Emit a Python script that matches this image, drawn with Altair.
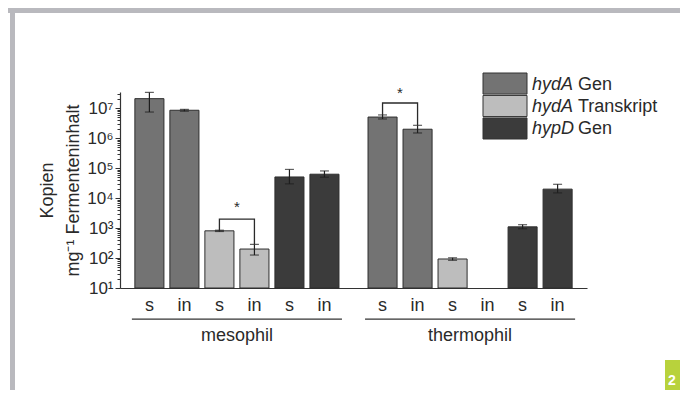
import altair as alt
import pandas as pd

# ---------------- data ----------------
series_names = ["hydA Gen", "hydA Transkript", "hypD Gen"]
series_gene = ["hydA", "hydA", "hypD"]
series_rest = ["Gen", "Transkript", "Gen"]
series_colors = ["#737373", "#bdbdbd", "#3b3b3b"]

groups = ["mesophil", "thermophil"]
conditions = ["s", "in"]

meso_values = [2.1e7, 8.6e6, 810, 200, 5.1e4, 6.3e4]
meso_lo = [7.5e6, 8.0e6, 770, 126, 3.0e4, 5.0e4]
meso_hi = [3.4e7, 9.2e6, 850, 286, 9.1e4, 8.1e4]

thermo_values = [5.1e6, 2.0e6, 93, None, 1100, 2.0e4]
thermo_lo = [4.4e6, 1.5e6, 84, None, 950, 1.5e4]
thermo_hi = [6.0e6, 2.7e6, 102, None, 1300, 2.9e4]

# significance brackets
br_group = ["mesophil"] * 4 + ["thermophil"] * 4
br_slot = [3, 3, 4, 4, 1, 1, 2, 2]
br_y = [850, 2000, 2000, 286, 6.0e6, 1.5e7, 1.5e7, 2.7e6]
br_step = [0, 1, 2, 3, 0, 1, 2, 3]
star_group = ["mesophil", "thermophil"]
star_slot = [3, 1]
star_y = [6300, 4.0e7]

y_ticks_exp = ["⁰", "¹", "²", "³", "⁴", "⁵", "⁶", "⁷", "⁸"]

# ---------------- tables ----------------
rows = []
for g, vals, los, his in [("mesophil", meso_values, meso_lo, meso_hi),
                          ("thermophil", thermo_values, thermo_lo, thermo_hi)]:
    for i in range(6):
        rows.append({
            "group": g,
            "slot": i + 1,
            "series": series_names[i // 2],
            "cond": conditions[i % 2],
            "value": vals[i],
            "lo": los[i],
            "hi": his[i],
        })
df = pd.DataFrame(rows)
df_br = pd.DataFrame({"group": br_group, "slot": br_slot, "y": br_y, "step": br_step,
                      "id": [g for g in br_group]})
df_star = pd.DataFrame({"group": star_group, "slot": star_slot, "y": star_y, "t": ["*", "*"]})
df_leg = pd.DataFrame({"series": series_names, "gene": series_gene, "rest": series_rest})
df_one = pd.DataFrame({"k": [0]})

FONT = "Liberation Sans"
TXT = "#2a2a2a"
LINE = "#333333"

is_pow = "abs(log(datum.value)/LN10 - round(log(datum.value)/LN10)) < 0.001"
exp_arr = "[" + ",".join("'" + e + "'" for e in y_ticks_exp) + "]"

x_enc = alt.X("group:N", sort=groups,
              scale=alt.Scale(paddingInner=0.099, paddingOuter=0.051),
              axis=alt.Axis(title=None, labelAngle=0, ticks=False, labelFontSize=18,
                            labelPadding=38, labelFont=FONT, labelColor=TXT,
                            domainColor=LINE, domainWidth=1.2))
xo_enc = alt.XOffset("slot:O", scale=alt.Scale(domain=[1, 2, 3, 4, 5, 6],
                                               paddingInner=0.17, paddingOuter=0.085))
y_scale = alt.Scale(type="log", domain=[10, 3.5e7], nice=False)

color_enc = alt.Color("series:N", scale=alt.Scale(domain=series_names, range=series_colors),
                      legend=None)

base = alt.Chart(df)

bars = base.mark_bar(stroke="#2e2e2e", strokeWidth=1).encode(
    x=x_enc,
    xOffset=xo_enc,
    y=alt.Y("value:Q", scale=y_scale,
            axis=alt.Axis(
                title=["Kopien", "mg⁻¹ Fermenteninhalt"],
                titleFontSize=18, titleFontWeight="normal", titleFont=FONT, titleColor=TXT,
                titleLineHeight=26, titleX=-64, titleY=98,
                tickCount=20, labelOverlap=False,
                labelExpr=f"({is_pow}) ? '10' + {exp_arr}[round(log(datum.value)/LN10)] : ''",
                labelFontSize=17, labelFont=FONT, labelColor=TXT, labelPadding=2,
                tickSize={"condition": {"test": is_pow, "value": 5}, "value": 3},
                tickColor=LINE, domainColor=LINE, domainWidth=1.2, grid=False)),
    y2=alt.datum(10),
    color=color_enc,
)

err = base.mark_rule(color="#1e1e1e", strokeWidth=1.2).encode(
    x=alt.X("group:N", sort=groups), xOffset=xo_enc,
    y=alt.Y("lo:Q", scale=y_scale), y2="hi:Q")
cap_hi = base.mark_tick(color="#1e1e1e", thickness=1.2, size=9).encode(
    x=alt.X("group:N", sort=groups), xOffset=xo_enc, y=alt.Y("hi:Q", scale=y_scale))
cap_lo = base.mark_tick(color="#1e1e1e", thickness=1.2, size=9).encode(
    x=alt.X("group:N", sort=groups), xOffset=xo_enc, y=alt.Y("lo:Q", scale=y_scale))

cond_txt = base.mark_text(fontSize=18, font=FONT, color=TXT, baseline="middle").encode(
    x=alt.X("group:N", sort=groups), xOffset=xo_enc, y=alt.value(214), text="cond:N")

underline = alt.Chart(pd.DataFrame({"group": groups})).mark_rect(color=LINE).encode(
    x=alt.X("group:N", sort=groups), y=alt.value(226.5), y2=alt.value(227.7))

brackets = alt.Chart(df_br).mark_line(color="#2a2a2a", strokeWidth=1.3).encode(
    x=alt.X("group:N", sort=groups), xOffset=xo_enc,
    y=alt.Y("y:Q", scale=y_scale), order="step:Q", detail="id:N")

stars = alt.Chart(df_star).mark_text(fontSize=15, font=FONT, color=TXT, dx=17.5, dy=3,
                                     baseline="middle").encode(
    x=alt.X("group:N", sort=groups), xOffset=xo_enc,
    y=alt.Y("y:Q", scale=y_scale), text="t:N")

main = alt.layer(bars, err, cap_hi, cap_lo, cond_txt, underline, brackets, stars)

# legend
leg_y = alt.Y("series:N", sort=series_names,
              scale=alt.Scale(domain=series_names, range=[-19, 47], paddingInner=0.06,
                              paddingOuter=0),
              axis=None)
leg_base = alt.Chart(df_leg)
leg_rect = leg_base.mark_rect(stroke="#333333", strokeWidth=1).encode(
    x=alt.value(363), x2=alt.value(407), y=leg_y, color=color_enc)
leg_gene = leg_base.mark_text(fontSize=18, font=FONT, fontStyle="italic", color=TXT,
                              align="left", baseline="middle", dy=1).encode(
    x=alt.value(412), y=leg_y, text="gene:N")
leg_rest = leg_base.mark_text(fontSize=18, font=FONT, color=TXT, align="left",
                              baseline="middle", dy=1).encode(
    x=alt.value(458), y=leg_y, text="rest:N")
legend = alt.layer(leg_rect, leg_gene, leg_rest)

# page frame decoration
deco_base = alt.Chart(df_one)
top_band = deco_base.mark_rule(color="#b9b9be", strokeWidth=5).encode(
    x=alt.value(-112), x2=alt.value(560), y=alt.value(-81.5))
left_band = deco_base.mark_rule(color="#b9b9be", strokeWidth=5).encode(
    x=alt.value(-107.5), y=alt.value(-84), y2=alt.value(298))
green = deco_base.mark_rect(color="#b8d23c").encode(
    x=alt.value(545), x2=alt.value(560), y=alt.value(268), y2=alt.value(298))
green_txt = deco_base.mark_text(color="white", fontSize=14, font=FONT, fontWeight="bold",
                                align="left", baseline="middle").encode(
    x=alt.value(548), y=alt.value(289), text=alt.value("2"))
deco = alt.layer(top_band, left_band, green, green_txt)

chart = alt.layer(main, legend, deco).resolve_scale(y="independent").properties(
    width=467, height=196,
    padding={"left": 112, "top": 84, "right": 93, "bottom": 102},
    autosize=alt.AutoSizeParams(type="none"),
    background="white",
).configure(font=FONT).configure_view(strokeWidth=0, stroke="transparent")

chart.save("out.html", embed_options={"renderer": "svg", "actions": False})
